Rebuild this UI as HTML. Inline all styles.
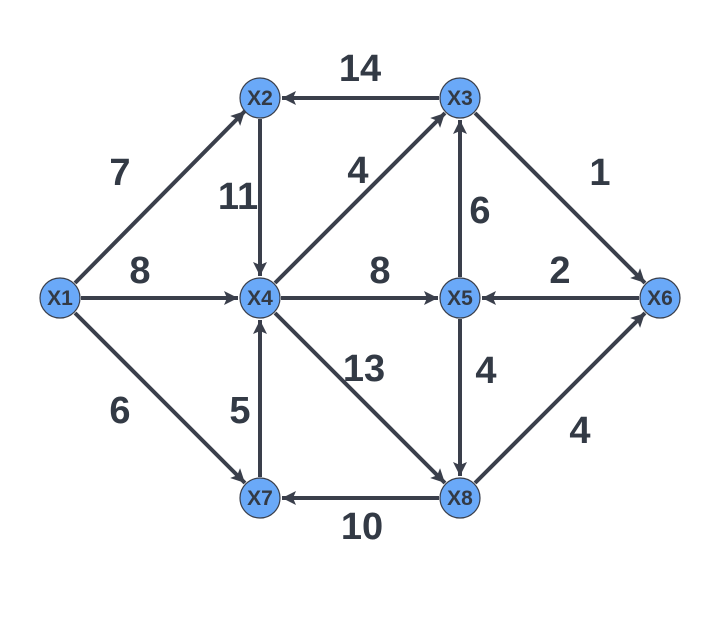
<!DOCTYPE html>
<html><head><meta charset="utf-8"><style>body{margin:0;background:#fff}svg{display:block}</style></head>
<body>
<svg width="720" height="630" xmlns="http://www.w3.org/2000/svg">
<defs><marker id="a" markerWidth="16" markerHeight="16" refX="14" refY="7" orient="auto" markerUnits="userSpaceOnUse"><path d="M0,0 L14,7 L0,14 L3,7 Z" fill="#3a3f4b"/></marker></defs>
<g stroke="#3a3f4b" stroke-width="4" fill="none" marker-end="url(#a)">
<line x1="75" y1="283" x2="245" y2="111"/>
<line x1="81" y1="298" x2="238" y2="298"/>
<line x1="75" y1="313" x2="245" y2="483"/>
<line x1="439" y1="98" x2="282" y2="98"/>
<line x1="260" y1="119" x2="260" y2="276"/>
<line x1="275" y1="283" x2="445" y2="113"/>
<line x1="475" y1="113" x2="645" y2="283"/>
<line x1="460" y1="277" x2="460" y2="120"/>
<line x1="281" y1="298" x2="438" y2="298"/>
<line x1="639" y1="298" x2="482" y2="298"/>
<line x1="275" y1="313" x2="445" y2="483"/>
<line x1="460" y1="319" x2="460" y2="476"/>
<line x1="260" y1="477" x2="260" y2="320"/>
<line x1="439" y1="498" x2="282" y2="498"/>
<line x1="475" y1="483" x2="645" y2="313"/>
</g>
<g fill="#6aa9f8" stroke="#3a3f4b" stroke-width="1.2">
<circle cx="60" cy="298" r="20"/><circle cx="260" cy="98" r="20"/><circle cx="460" cy="98" r="20"/>
<circle cx="260" cy="298" r="20"/><circle cx="460" cy="298" r="20"/><circle cx="660" cy="298" r="20"/>
<circle cx="260" cy="498" r="20"/><circle cx="460" cy="498" r="20"/>
</g>
<g font-family="Liberation Sans, sans-serif" font-weight="bold" font-size="21" fill="#333a45" text-anchor="middle">
<text x="60" y="305">X1</text><text x="260" y="105">X2</text><text x="460" y="105">X3</text>
<text x="260" y="305">X4</text><text x="460" y="305">X5</text><text x="660" y="305">X6</text>
<text x="260" y="505">X7</text><text x="460" y="505">X8</text>
</g>
<g font-family="Liberation Sans, sans-serif" font-weight="bold" font-size="38" fill="#333a45" text-anchor="middle">
<text x="360" y="81">14</text><text x="120" y="185">7</text><text x="238" y="209">11</text>
<text x="358" y="183">4</text><text x="600" y="185">1</text><text x="480" y="223">6</text>
<text x="140" y="283">8</text><text x="380" y="283">8</text><text x="560" y="283">2</text>
<text x="364" y="381">13</text><text x="486" y="383">4</text><text x="120" y="423">6</text>
<text x="240" y="423">5</text><text x="580" y="443">4</text><text x="362" y="539">10</text>
</g>
</svg>
</body></html>
